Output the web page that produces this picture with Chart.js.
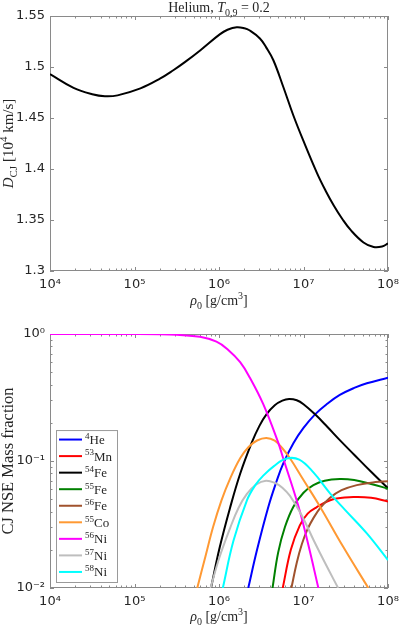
<!DOCTYPE html>
<html>
<head>
<meta charset="utf-8">
<script src="https://cdn.jsdelivr.net/npm/chart.js@4.4.1/dist/chart.umd.min.js"></script>
<style>
  body { margin: 0; background: #fff; }
  canvas { display: block; }
</style>
</head>
<body>
<canvas id="top" width="399" height="310"></canvas>
<canvas id="bottom" width="399" height="319"></canvas>
<script>
"use strict"

// ---- data ----
// top panel: CJ detonation speed [10^4 km/s] vs upstream density
const rhoTop = [1e4, 1.9e4, 3.16e4, 4.47e4, 6.31e4, 1.175e5, 2e5, 2.88e5, 3.98e5, 6.03e5, 1.02e6, 1.26e6, 1.62e6, 2e6, 2.29e6,
  3.05e6, 3.63e6, 4.4e6, 5.77e6, 7.57e6, 9.93e6, 1.445e7, 1.82e7, 2.29e7, 2.88e7, 3.63e7, 5.13e7, 6.76e7, 8.51e7, 1e8];
const dcj = [1.493, 1.4795, 1.4733, 1.4713, 1.4722, 1.479, 1.4885, 1.4968, 1.505, 1.5165, 1.532, 1.5365, 1.539, 1.538, 1.536,
  1.528, 1.519, 1.5066, 1.4804, 1.4527, 1.428, 1.396, 1.379, 1.364, 1.351, 1.340, 1.328, 1.3235, 1.324, 1.327];

// bottom panel: CJ NSE mass fractions
const rhoHe4 = [2.22e6, 2.82e6, 3.84e6, 4.79e6, 5.75e6, 7.59e6, 1e7, 1.37e7, 1.91e7, 2.69e7, 3.98e7, 5.62e7, 1e8];
const xHe4 = [0.01, 0.020, 0.0437, 0.069, 0.0955, 0.138, 0.182, 0.233, 0.282, 0.331, 0.376, 0.409, 0.453];

const rhoMn53 = [5.68e6, 7.08e6, 9.02e6, 1.12e7, 1.41e7, 2.24e7, 3.89e7, 6.31e7, 1e8];
const xMn53 = [0.01, 0.02, 0.031, 0.0385, 0.043, 0.050, 0.052, 0.0513, 0.048];

const rhoFe54 = [8.04e5, 1.02e6, 1.35e6, 1.78e6, 2.44e6, 3.02e6, 3.66e6, 4.57e6, 5.62e6, 6.76e6, 8.32e6, 1e7,
  1.37e7, 1.91e7, 2.69e7, 3.98e7, 6.31e7, 1e8];
const xFe54 = [0.01, 0.0209, 0.0427, 0.0794, 0.1396, 0.19, 0.234, 0.275, 0.299, 0.3076, 0.3006, 0.28,
  0.233, 0.186, 0.146, 0.112, 0.0822, 0.061];

const rhoFe55 = [4.3e6, 5.01e6, 6.03e6, 7.59e6, 1e7, 1.31e7, 1.78e7, 2.69e7, 3.98e7, 6.31e7, 1e8];
const xFe55 = [0.01, 0.019, 0.0302, 0.0437, 0.0562, 0.0646, 0.070, 0.0721, 0.0708, 0.066, 0.0605];

const rhoFe56 = [7.19e6, 8.32e6, 9.55e6, 1.12e7, 1.31e7, 1.58e7, 2.06e7, 2.82e7, 4.27e7, 7.08e7, 1e8];
const xFe56 = [0.01, 0.0158, 0.0221, 0.0292, 0.0355, 0.0427, 0.0513, 0.0589, 0.0646, 0.0682, 0.0692];

const rhoCo55 = [5.53e5, 6.92e5, 8.51e5, 1.07e6, 1.35e6, 1.78e6, 2.24e6, 2.82e6, 3.63e6, 4.57e6, 5.62e6, 6.92e6,
  1e7, 1.57e7, 2.95e7, 5.85e7];
const xCo55 = [0.01, 0.0178, 0.0302, 0.049, 0.0724, 0.105, 0.129, 0.145, 0.152, 0.1445, 0.126, 0.105,
  0.0708, 0.0437, 0.0211, 0.01];

const rhoNi56 = [1e4, 1e5, 2e5, 3.16e5, 5.96e5, 9.33e5, 1.26e6, 1.78e6, 2.33e6, 3.34e6, 5.01e6, 5.75e6, 8.71e6, 1.12e7, 1.5e7];
const xNi56 = [1.0, 0.9995, 0.996, 0.985, 0.95, 0.87, 0.76, 0.60, 0.45, 0.28, 0.14, 0.105, 0.044, 0.023, 0.01];

const rhoNi57 = [7.94e5, 1e6, 1.35e6, 1.7e6, 2.14e6, 2.75e6, 3.6e6, 4.68e6, 5.62e6, 6.92e6, 9.55e6, 1.31e7, 1.82e7, 2.57e7];
const xNi57 = [0.01, 0.017, 0.0295, 0.0427, 0.055, 0.0653, 0.070, 0.0668, 0.0617, 0.0531, 0.0372, 0.024, 0.0155, 0.01];

const rhoNi58 = [1.11e6, 1.48e6, 2.14e6, 2.69e6, 3.34e6, 4.47e6, 6.31e6, 8.91e6, 1.31e7, 2.06e7, 3.16e7, 5.62e7, 1e8];
const xNi58 = [0.01, 0.0234, 0.049, 0.0646, 0.0767, 0.0912, 0.1045, 0.1025, 0.0813, 0.0557, 0.0407, 0.0269, 0.0166];

const isoMass = ["4", "53", "54", "55", "56", "55", "56", "57", "58"];
const isoElem = ["He", "Mn", "Fe", "Fe", "Fe", "Co", "Ni", "Ni", "Ni"];
const isoColor = ["#0000ff", "#ff0000", "#000000", "#008000", "rgb(160,82,45)",
  "rgb(255,153,51)", "#ff00ff", "rgb(190,190,190)", "#00ffff"];
const isoRho = [rhoHe4, rhoMn53, rhoFe54, rhoFe55, rhoFe56, rhoCo55, rhoNi56, rhoNi57, rhoNi58];
const isoX = [xHe4, xMn53, xFe54, xFe55, xFe56, xCo55, xNi56, xNi57, xNi58];

// tick labels
const rhoTicks = [1e4, 1e5, 1e6, 1e7, 1e8];
const dcjTicks = [1.3, 1.35, 1.4, 1.45, 1.5, 1.55];
const fracTicks = [1e-2, 1e-1, 1];

// ---- helpers ----
const SERIF = '"Liberation Serif", "Times New Roman", serif';
const SANS = '"DejaVu Sans", sans-serif';
const AXIS = "#8a8a8a";
const TEXT = "#262626";
const SUP = { "0": "⁰", "1": "¹", "2": "²", "3": "³", "4": "⁴", "5": "⁵", "6": "⁶", "7": "⁷", "8": "⁸", "9": "⁹", "-": "⁻" };

function pow10Label(v) {
  const e = Math.round(Math.log10(v));
  return "10" + String(e).split("").map(c => SUP[c]).join("");
}

function fontFor(p, size) {
  const s = (p.sub || p.sup) ? Math.round(size * 0.7) : size;
  return (p.it ? "italic " : "") + s + "px " + SERIF;
}

// draws text made of pieces with sub/superscripts
function drawRich(ctx, parts, x, y, size, align) {
  let w = 0;
  parts.forEach(p => { ctx.font = fontFor(p, size); w += ctx.measureText(p.t).width; });
  let cx = align === "center" ? x - w / 2 : x;
  ctx.textAlign = "left";
  ctx.textBaseline = "alphabetic";
  parts.forEach(p => {
    ctx.font = fontFor(p, size);
    const dy = p.sub ? size * 0.28 : p.sup ? -size * 0.4 : 0;
    ctx.fillText(p.t, cx, y + dy);
    cx += ctx.measureText(p.t).width;
  });
}

function tickList(scale) {
  const out = [];
  if (scale.type === "logarithmic") {
    for (let d = Math.round(Math.log10(scale.min)); d < Math.round(Math.log10(scale.max)); d++) {
      for (let m = 1; m < 10; m++) out.push({ v: m * Math.pow(10, d), major: m === 1 });
    }
    out.push({ v: scale.max, major: true });
  } else {
    scale.ticks.forEach(t => out.push({ v: t.value, major: true }));
  }
  return out;
}

// MATLAB-like box with inward ticks on all four sides
const framePlugin = {
  id: "frame",
  beforeDatasetsDraw(chart) {
    const { ctx, chartArea: a, scales } = chart;
    ctx.save();
    ctx.strokeStyle = AXIS;
    ctx.lineWidth = 1;
    ctx.strokeRect(a.left + 0.5, a.top + 0.5, a.right - a.left - 1, a.bottom - a.top - 1);
    ctx.beginPath();
    tickList(scales.x).forEach(t => {
      const px = Math.round(scales.x.getPixelForValue(t.v)) + 0.5;
      const len = t.major ? 4 : 2.5;
      ctx.moveTo(px, a.bottom); ctx.lineTo(px, a.bottom - len);
      ctx.moveTo(px, a.top); ctx.lineTo(px, a.top + len);
    });
    tickList(scales.y).forEach(t => {
      const py = Math.round(scales.y.getPixelForValue(t.v)) + 0.5;
      const len = t.major ? 4 : 2.5;
      ctx.moveTo(a.left, py); ctx.lineTo(a.left + len, py);
      ctx.moveTo(a.right, py); ctx.lineTo(a.right - len, py);
    });
    ctx.stroke();
    ctx.restore();
  }
};

function xAxis(height) {
  return {
    type: "logarithmic", min: 1e4, max: 1e8,
    grid: { display: false, drawTicks: false }, border: { display: false },
    afterBuildTicks: s => { s.ticks = rhoTicks.map(v => ({ value: v })); },
    afterFit: s => { s.height = height; s.paddingLeft = 0; s.paddingRight = 0; },
    ticks: { callback: pow10Label, padding: 6, color: TEXT, font: { family: SANS, size: 13 }, maxRotation: 0, autoSkip: false }
  };
}

function yAxis(extra) {
  return Object.assign({
    grid: { display: false, drawTicks: false }, border: { display: false },
    afterFit: s => { s.width = 50; s.paddingTop = 0; s.paddingBottom = 0; }
  }, extra);
}

const baseOptions = {
  responsive: false, animation: false, devicePixelRatio: 1,
  plugins: { legend: { display: false }, tooltip: { enabled: false } },
  elements: { point: { radius: 0 }, line: { borderWidth: 2, tension: 0.4, capBezierPoints: false } }
};

const rhoLabel = [{ t: "ρ", it: true }, { t: "0", sub: true }, { t: " [g/cm" }, { t: "3", sup: true }, { t: "]" }];

// ---- top chart ----
new Chart(document.getElementById("top"), {
  type: "line",
  data: {
    datasets: [{
      data: rhoTop.map((r, i) => ({ x: r, y: dcj[i] })),
      borderColor: "#000", borderWidth: 2
    }]
  },
  options: Object.assign({}, baseOptions, {
    layout: { padding: { left: 0, right: 11, top: 16, bottom: 0 } },
    scales: {
      x: xAxis(39),
      y: yAxis({
        type: "linear", min: 1.3, max: 1.55,
        afterBuildTicks: s => { s.ticks = dcjTicks.map(v => ({ value: v })); },
        ticks: { callback: v => v.toFixed(2).replace(/0$/, ""), padding: 5, color: TEXT, font: { family: SANS, size: 13 } }
      })
    }
  }),
  plugins: [framePlugin, {
    id: "topText",
    afterDraw(chart) {
      const { ctx, chartArea: a } = chart;
      const cx = (a.left + a.right) / 2;
      ctx.save();
      ctx.fillStyle = TEXT;
      drawRich(ctx, [{ t: "Helium, " }, { t: "T", it: true }, { t: "0,9", sub: true }, { t: " = 0.2" }], cx, 12, 14, "center");
      drawRich(ctx, rhoLabel, cx, 305, 14, "center");
      ctx.translate(13, (a.top + a.bottom) / 2);
      ctx.rotate(-Math.PI / 2);
      drawRich(ctx, [{ t: "D", it: true }, { t: "CJ", sub: true }, { t: " [10" }, { t: "4", sup: true }, { t: " km/s]" }], 0, 0, 15, "center");
      ctx.restore();
    }
  }]
});

// ---- bottom chart ----
new Chart(document.getElementById("bottom"), {
  type: "line",
  data: {
    datasets: isoRho.map((rho, i) => ({
      label: isoMass[i] + isoElem[i],
      mass: isoMass[i], elem: isoElem[i],
      data: rho.map((r, j) => ({ x: r, y: isoX[i][j] })),
      borderColor: isoColor[i], borderWidth: 2,
      order: isoRho.length - i
    }))
  },
  options: Object.assign({}, baseOptions, {
    layout: { padding: { left: 0, right: 11, top: 24, bottom: 0 } },
    scales: {
      x: xAxis(41),
      y: yAxis({
        type: "logarithmic", min: 1e-2, max: 1,
        afterBuildTicks: s => { s.ticks = fracTicks.map(v => ({ value: v })); },
        ticks: { callback: pow10Label, padding: 5, color: TEXT, font: { family: SANS, size: 13 } }
      })
    }
  }),
  plugins: [framePlugin, {
    id: "bottomText",
    afterDraw(chart) {
      const { ctx, chartArea: a } = chart;
      const cx = (a.left + a.right) / 2;
      ctx.save();
      // legend box
      const rows = chart.data.datasets;
      const rowH = 16.55;
      const bx = a.left + 6, bw = 61;
      const bh = rows.length * rowH + 3;
      const by = a.bottom - 6 - bh;
      ctx.fillStyle = "#fff";
      ctx.fillRect(bx, by, bw, bh);
      ctx.strokeStyle = "#9a9a9a";
      ctx.lineWidth = 1;
      ctx.strokeRect(bx + 0.5, by + 0.5, bw, bh);
      rows.forEach((ds, i) => {
        const ry = by + 9.5 + i * rowH;
        ctx.strokeStyle = ds.borderColor;
        ctx.lineWidth = 2;
        ctx.beginPath();
        ctx.moveTo(bx + 3, ry); ctx.lineTo(bx + 26, ry);
        ctx.stroke();
        ctx.fillStyle = TEXT;
        drawRich(ctx, [{ t: ds.mass, sup: true }, { t: ds.elem }], bx + 29, ry + 4.5, 13, "left");
      });
      ctx.fillStyle = TEXT;
      drawRich(ctx, rhoLabel, cx, 311, 14, "center");
      ctx.translate(13, (a.top + a.bottom) / 2);
      ctx.rotate(-Math.PI / 2);
      drawRich(ctx, [{ t: "CJ NSE Mass fraction" }], 0, 0, 16.5, "center");
      ctx.restore();
    }
  }]
});
</script>
</body>
</html>
